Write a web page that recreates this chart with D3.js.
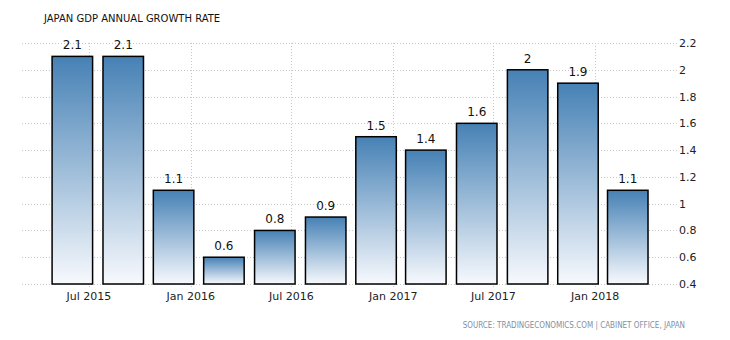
<!DOCTYPE html>
<html>
<head>
<meta charset="utf-8">
<script src="https://cdn.jsdelivr.net/npm/d3@7"></script>
<style>
  body { margin: 0; background: #fff; }
  svg text { font-family: "DejaVu Sans", Verdana, sans-serif; }
</style>
</head>
<body>
<div id="chart"></div>
<script>
// quarterly values, plotted at the month the quarter ends
const quarters = ["2015-06-01", "2015-09-01", "2015-12-01", "2016-03-01", "2016-06-01", "2016-09-01",
  "2016-12-01", "2017-03-01", "2017-06-01", "2017-09-01", "2017-12-01", "2018-03-01"];
const growth = [2.1, 2.1, 1.1, 0.6, 0.8, 0.9, 1.5, 1.4, 1.6, 2, 1.9, 1.1];
const xTicks = ["2015-07-01", "2016-01-01", "2016-07-01", "2017-01-01", "2017-07-01", "2018-01-01"];
const yTicks = [0.4, 0.6, 0.8, 1, 1.2, 1.4, 1.6, 1.8, 2, 2.2];

const width = 730, height = 340;
const plot = { left: 22, right: 677, top: 43, bottom: 284 };
const barWidth = 40.5;
const parse = d3.timeParse("%Y-%m-%d");

const svg = d3.select("#chart").append("svg")
  .attr("width", width)
  .attr("height", height);

const grad = svg.append("defs").append("linearGradient")
  .attr("id", "barGrad")
  .attr("x1", 0).attr("y1", 0).attr("x2", 0).attr("y2", 1);
grad.append("stop").attr("offset", "0%").attr("stop-color", "#4681b5");
grad.append("stop").attr("offset", "100%").attr("stop-color", "#f7f9fd");

const x = d3.scaleTime()
  .domain([parse("2015-03-02"), parse("2018-05-29")])
  .range([plot.left, plot.right]);
const y = d3.scaleLinear()
  .domain([0.4, 2.2])
  .range([plot.bottom, plot.top]);

// horizontal grid
svg.append("g").selectAll("line")
  .data(yTicks)
  .enter().append("line")
  .attr("x1", plot.left)
  .attr("x2", plot.right)
  .attr("y1", d => Math.round(y(d)) + 0.5)
  .attr("y2", d => Math.round(y(d)) + 0.5)
  .attr("stroke", "#c8c8c8")
  .attr("stroke-dasharray", "1,2");

// vertical grid + tick marks
svg.append("g").selectAll("line")
  .data(xTicks)
  .enter().append("line")
  .attr("x1", d => Math.round(x(parse(d))) + 0.5)
  .attr("x2", d => Math.round(x(parse(d))) + 0.5)
  .attr("y1", plot.top)
  .attr("y2", plot.bottom + 4)
  .attr("stroke", "#c8c8c8")
  .attr("stroke-dasharray", "1,2");

// y labels on the right
svg.append("g").selectAll("text")
  .data(yTicks)
  .enter().append("text")
  .attr("x", plot.right + 2)
  .attr("y", d => y(d) + 4)
  .attr("font-size", 11)
  .attr("fill", "#222")
  .text(d => d3.format("")(d));

// x labels
svg.append("g").selectAll("text")
  .data(xTicks)
  .enter().append("text")
  .attr("x", d => x(parse(d)))
  .attr("y", 300)
  .attr("text-anchor", "middle")
  .attr("font-size", 11)
  .attr("fill", "#222")
  .text(d => d3.timeFormat("%b %Y")(parse(d)));

// bars
const data = quarters.map((q, i) => ({ date: parse(q), value: growth[i] }));
svg.append("g").selectAll("rect")
  .data(data)
  .enter().append("rect")
  .attr("x", d => x(d.date) - barWidth / 2)
  .attr("y", d => y(d.value))
  .attr("width", barWidth)
  .attr("height", d => y(0.4) - y(d.value))
  .attr("fill", "url(#barGrad)")
  .attr("stroke", "#000")
  .attr("stroke-width", 1.5);

// value labels
svg.append("g").selectAll("text")
  .data(data)
  .enter().append("text")
  .attr("x", d => x(d.date))
  .attr("y", d => y(d.value) - 7)
  .attr("text-anchor", "middle")
  .attr("font-size", 12)
  .attr("fill", "#111")
  .text(d => d.value);

svg.append("text")
  .attr("x", 44)
  .attr("y", 22)
  .attr("font-size", 10)
  .attr("fill", "#111")
  .text("JAPAN GDP ANNUAL GROWTH RATE");

svg.append("text")
  .attr("x", 685)
  .attr("y", 328)
  .attr("text-anchor", "end")
  .attr("font-size", 8)
  .style("font-family", "'DejaVu Sans Condensed', 'DejaVu Sans', sans-serif")
  .attr("fill", "#7f8fa6")
  .text("SOURCE: TRADINGECONOMICS.COM | CABINET OFFICE, JAPAN");
</script>
</body>
</html>
